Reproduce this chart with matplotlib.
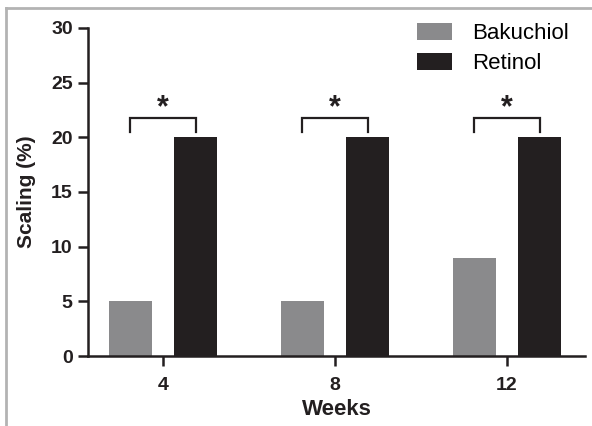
import matplotlib
matplotlib.use('Agg')
import numpy as np
import matplotlib.pyplot as plt
from matplotlib.patches import Patch
from matplotlib.lines import Line2D

weeks = ['4', '8', '12']
bakuchiol = [5, 5, 9]
retinol = [20, 20, 20]
series_names = ['Bakuchiol', 'Retinol']
yticks = [0, 5, 10, 15, 20, 25, 30]

plt.rcParams['font.family'] = ['Liberation Sans', 'DejaVu Sans']

gray = '#8a8a8c'
black = '#231f20'

fig = plt.figure(figsize=(5.92, 4.26), dpi=100)
ax = fig.add_axes([0.1486, 0.1643, 0.8394, 0.7700])

x = np.arange(len(weeks))
w = 0.25
off = 0.19
ax.bar(x - off, bakuchiol, w, color=gray, edgecolor='none')
ax.bar(x + off, retinol, w, color=black, edgecolor='none')

# significance brackets
for i in range(len(weeks)):
    top = max(bakuchiol[i], retinol[i])
    yb = top + 1.8
    ax.plot([x[i] - off, x[i] - off, x[i] + off, x[i] + off],
            [top + 0.5, yb, yb, top + 0.5], color=black, lw=1.6,
            solid_joinstyle='miter', clip_on=False)
    ax.text(x[i], yb - 0.55, '*', ha='center', va='bottom',
            fontsize=22, fontweight='bold', color=black)

ax.set_xlim(-0.436, 2.453)
ax.set_ylim(0, 30)
ax.set_xticks(x)
ax.set_xticklabels(weeks)
ax.set_yticks(yticks)
for s in ['top', 'right']:
    ax.spines[s].set_visible(False)
for s in ['left', 'bottom']:
    ax.spines[s].set_linewidth(1.8)
    ax.spines[s].set_color(black)
ax.tick_params(axis='both', direction='out', length=7, width=1.8,
               color=black, labelsize=14)
ax.tick_params(axis='x', pad=8)
ax.tick_params(axis='y', pad=4)
for lab in ax.get_xticklabels() + ax.get_yticklabels():
    lab.set_fontweight('bold')
    lab.set_color(black)

ax.set_xlabel('Weeks', fontsize=16, fontweight='bold', color=black, labelpad=4)
ax.set_ylabel('Scaling (%)', fontsize=15, fontweight='bold', color=black)
ax.yaxis.set_label_coords(-0.105, 0.5)

handles = [Patch(facecolor=gray, edgecolor='none'),
           Patch(facecolor=black, edgecolor='none')]
ax.legend(handles, series_names, loc='upper left', bbox_to_anchor=(0.662, 1.015),
          frameon=False, fontsize=16, handlelength=1.58, handleheight=0.78,
          handletextpad=0.9, labelspacing=0.4, borderpad=0, borderaxespad=0)

# outer frame lines of the original figure panel
fig.add_artist(Line2D([6 / 592, 1.0], [1 - 8 / 426, 1 - 8 / 426],
                      transform=fig.transFigure, color='#b3b3b3', lw=2))
fig.add_artist(Line2D([6 / 592, 6 / 592], [0, 1 - 8 / 426],
                      transform=fig.transFigure, color='#b3b3b3', lw=2))

fig.savefig('out.png', dpi=100)
